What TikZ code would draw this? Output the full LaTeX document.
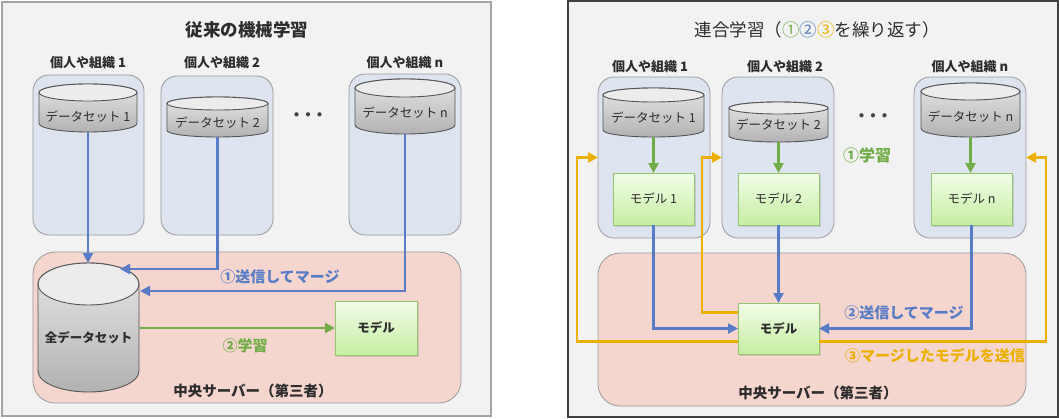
\documentclass[tikz,border=0pt]{standalone}
\usepackage{fontspec}
\setmainfont{Noto Sans CJK JP}
\usetikzlibrary{arrows.meta,calc,shadows}
\definecolor{panelbg}{HTML}{F2F2F2}
\definecolor{orgfill}{RGB}{221,228,240}
\definecolor{orgline}{HTML}{9A9A9A}
\definecolor{srvfill}{RGB}{245,214,207}
\definecolor{mtop}{RGB}{242,252,232}
\definecolor{mbot}{RGB}{198,238,162}
\definecolor{mline}{RGB}{150,198,112}
\definecolor{cyltop}{RGB}{230,230,230}
\definecolor{cylbot}{RGB}{178,178,178}
\definecolor{cylcap}{RGB}{236,236,236}
\definecolor{cylline}{RGB}{85,85,85}
\definecolor{ablue}{RGB}{88,124,198}
\definecolor{agreen}{RGB}{112,173,71}
\definecolor{aorange}{RGB}{236,176,0}
\definecolor{txt}{RGB}{45,45,45}
\newcommand{\dbcyl}[8]{%
  \pgfmathsetmacro\cx{(#2+#3)/2}%
  \pgfmathsetmacro\rx{(#3-#2)/2}%
  \pgfmathsetmacro\ya{#4+#6}%
  \pgfmathsetmacro\yb{#5-#6}%
  \pgfmathsetmacro\ym{(#4+#5)/2}%
  \pgfmathsetmacro\ww{#3-#2}%
  \pgfmathsetmacro\hh{#5-#4}%
  \shade[top color=cyltop, bottom color=cylbot, draw=cylline, line width=0.9pt]
    (#2,\ya) -- (#2,\yb) arc[start angle=180, end angle=360, x radius=\rx pt, y radius=#6pt]
    -- (#3,\ya) arc[start angle=0, end angle=180, x radius=\rx pt, y radius=#6pt] -- cycle;
  \draw[fill=cylcap, draw=cylline, line width=0.9pt] (\cx,\ya) ellipse[x radius=\rx pt, y radius=#6pt];
  \node[inner sep=0, outer sep=0, minimum width=\ww pt, minimum height=\hh pt] (#1) at (\cx,\ym) {};
  \node[dslabel] (#1-t) at (\cx,#7) {#8};
}
\begin{document}
\begin{tikzpicture}[x=1pt,y=-1pt,
  panel/.style={draw=#1, line width=1.5pt, fill=panelbg},
  orgbox/.style={draw=orgline, line width=0.8pt, fill=orgfill, rounded corners=16pt, inner sep=0, outer sep=0},
  srvbox/.style={draw=orgline, line width=0.8pt, fill=srvfill, rounded corners=22pt, inner sep=0, outer sep=0},
  mbox/.style={draw=mline, line width=0.9pt, top color=mtop, bottom color=mbot, inner sep=0, outer sep=0,
    drop shadow={opacity=0.25, shadow xshift=1.5pt, shadow yshift=-1.5pt}, font=\fontsize{12.5}{14}\selectfont, text=txt},
  dslabel/.style={font=\fontsize{12.5}{14}\selectfont, text=txt, inner sep=0},
  orglabel/.style={font=\bfseries\fontsize{13}{15}\selectfont, text=txt, inner sep=0},
  title/.style={font=\fontsize{17.5}{20}\selectfont, text=txt, inner sep=0},
  srvlabel/.style={font=\bfseries\fontsize{14.5}{17}\selectfont, text=txt, inner sep=0},
  steplabel/.style={font=\bfseries\fontsize{15}{17}\selectfont, text=#1, inner sep=0},
  dots/.style={font=\bfseries\fontsize{15}{17}\selectfont, text=txt!90, inner sep=0},
  conn/.style={draw=#1, line width=2.5pt, -{Triangle[length=10pt,width=10pt]}},
  plain/.style={draw=#1, line width=2.5pt}
]
\useasboundingbox (0,0) rectangle (1059,418);
\fill[white] (0,0) rectangle (1059,418);

% ================= LEFT PANEL =================
\draw[panel=orgline!90] (2,2) rectangle (491,416);
\node[title, font=\bfseries\fontsize{17.5}{20}\selectfont] (ltitle) at (247,30) {従来の機械学習};

\node[orglabel] (lol1) at (88,63) {個人や組織 1};
\node[orglabel] (lol2) at (222,63) {個人や組織 2};
\node[orglabel] (loln) at (405,63) {個人や組織 n};

\node[orgbox, minimum width=111pt, minimum height=160pt] (lorg1) at (88.5,155) {};
\node[orgbox, minimum width=112pt, minimum height=159pt] (lorg2) at (217,155.5) {};
\node[orgbox, minimum width=112pt, minimum height=161pt] (lorgn) at (405,154.5) {};

\dbcyl{lds1}{39}{137}{84}{132}{8.5}{117}{データセット 1}
\dbcyl{lds2}{167}{268}{97}{137}{6.5}{123}{データセット 2}
\dbcyl{ldsn}{355}{455}{79}{134}{9}{113}{データセット n}
\node[dots] (ldots) at (308,117) {・\kern-3.5pt・\kern-3.5pt・};

\node[srvbox, minimum width=428pt, minimum height=151pt] (lsrv) at (247,327.5) {};
\dbcyl{lall}{38}{139}{263}{392}{21}{338}{\bfseries 全データセット}
\node[mbox, minimum width=82pt, minimum height=54pt] (lmodel) at (376,328) {\bfseries モデル};

\coordinate (lallA) at (120,269);
\coordinate (lallB) at (140,291);
\draw[conn=ablue] (lds1.south) -- (lds1.south |- lall.north);
\draw[conn=ablue] (lds2.south) |- (lallA);
\draw[conn=ablue] (ldsn.south) |- (lallB);
\draw[conn=agreen] (lmodel.west -| lall.east) -- (lmodel.west);

\node[steplabel=ablue] (lstep1) at (280,277) {①送信してマージ};
\node[steplabel=agreen] (lstep2) at (245,346) {②学習};
\node[srvlabel] (lsrvt) at (253,391) {中央サーバー（第三者）};

% ================= RIGHT PANEL =================
\draw[panel={black!75}] (568,1) rectangle (1058,417);
\node[title] (rtitle) at (817,30) {連合学習（{\color{agreen}①}{\color{ablue}②}{\color{aorange}③}を繰り返す）};

\node[orglabel] (rol1) at (650,67) {個人や組織 1};
\node[orglabel] (rol2) at (785,67) {個人や組織 2};
\node[orglabel] (roln) at (970,67) {個人や組織 n};

\node[orgbox, minimum width=112pt, minimum height=161pt] (rorg1) at (654,157.5) {};
\node[orgbox, minimum width=112pt, minimum height=161pt] (rorg2) at (778,157.5) {};
\node[orgbox, minimum width=112pt, minimum height=161pt] (rorgn) at (970,157.5) {};

\dbcyl{rds1}{603}{704}{88}{137}{7}{118}{データセット 1}
\dbcyl{rds2}{729}{828}{102}{142}{6}{125}{データセット 2}
\dbcyl{rdsn}{921}{1020}{83}{137}{8.5}{117}{データセット n}
\node[dots] (rdots) at (873,118) {・\kern-3.5pt・\kern-3.5pt・};

\node[mbox, minimum width=81pt, minimum height=52pt] (rm1) at (653.5,199) {モデル 1};
\node[mbox, minimum width=81pt, minimum height=52pt] (rm2) at (778.5,199) {モデル 2};
\node[mbox, minimum width=81pt, minimum height=52pt] (rmn) at (971.5,199) {モデル n};

\draw[conn=agreen] (rds1.south) -- (rds1.south |- rm1.north);
\draw[conn=agreen] (rds2.south) -- (rds2.south |- rm2.north);
\draw[conn=agreen] (rdsn.south) -- (rdsn.south |- rmn.north);
\node[steplabel=agreen, font=\bfseries\fontsize{16}{18}\selectfont] (rstep1) at (867,155) {①学習};

\node[srvbox, minimum width=428pt, minimum height=153pt] (rsrv) at (812,329.5) {};
\node[mbox, minimum width=81pt, minimum height=51pt] (rcm) at (778.5,328.5) {\bfseries モデル};

% orange return lines
\coordinate (o1s) at ($(rcm.west)+(0,13)$);
\coordinate (o2s) at ($(rcm.west)+(0,-16)$);
\coordinate (o3s) at ($(rcm.east)+(0,13)$);
\draw[conn=aorange] (o1s) -| ($(rorg1.west)+(-21,0)$) -- (rorg1.west);
\draw[conn=aorange] (o2s) -| ($(rorg2.west)+(-20,0)$) -- (rorg2.west);
\draw[conn=aorange] (o3s) -| ($(rorgn.east)+(20,0)$) -- (rorgn.east);

% blue merge lines
\draw[conn=ablue] (rm1.south) |- (rcm.west);
\draw[conn=ablue] (rm2.south) -- (rcm.north);
\draw[conn=ablue] (rmn.south) |- (rcm.east);

\node[steplabel=ablue] (rstep2) at (904,313) {②送信してマージ};
\node[steplabel=aorange] (rstep3) at (935,356) {③マージしたモデルを送信};
\node[srvlabel] (rsrvt) at (818,393) {中央サーバー（第三者）};
\end{tikzpicture}
\end{document}
